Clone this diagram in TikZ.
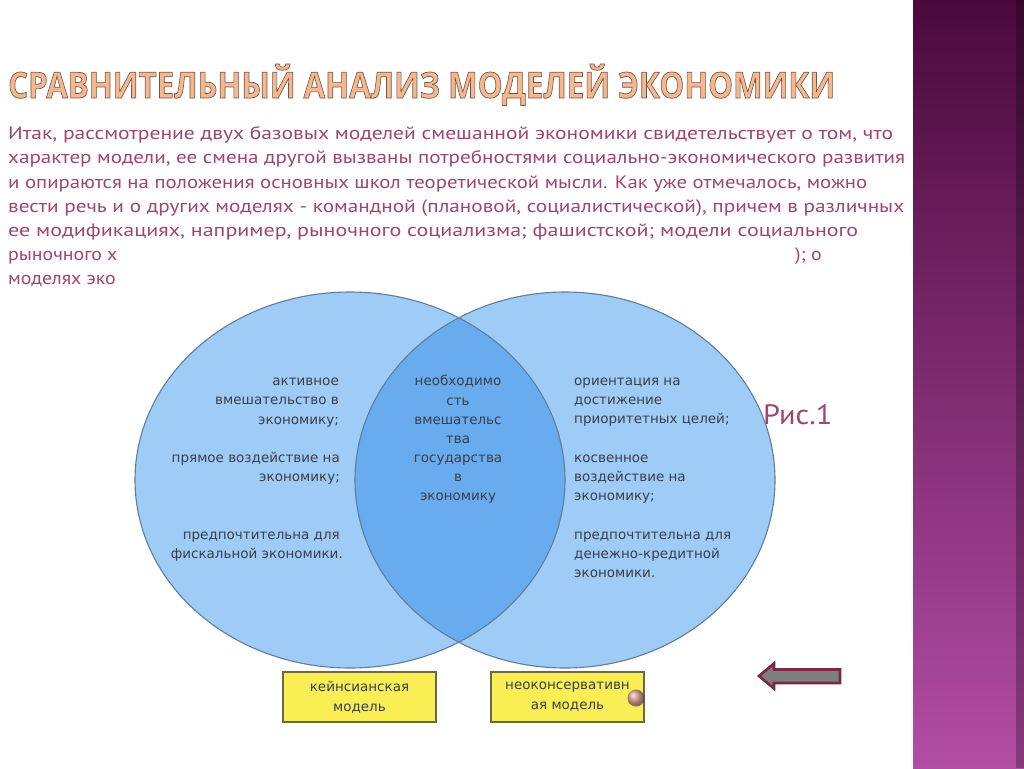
\documentclass[tikz,border=0pt]{standalone}
\usepackage{fontspec}
\setmainfont{PT Sans}
\newfontfamily\vennfont{DejaVu Sans}
\newfontfamily\titlefont{Open Sans}
\usepackage{graphicx}
\definecolor{bodytxt}{HTML}{A0466E}
\definecolor{titlefill}{HTML}{F4B88E}
\definecolor{vlight}{HTML}{9FCBF7}
\definecolor{vdark}{HTML}{68ABEE}
\definecolor{vedge}{HTML}{5F7E9C}
\definecolor{vtxt}{HTML}{3A3F4A}
\definecolor{ybox}{HTML}{F9EF55}
\definecolor{yedge}{HTML}{6E6A40}
\definecolor{agray}{HTML}{7F7F7F}
\definecolor{amaroon}{HTML}{7A2846}
\definecolor{bartop}{HTML}{4A0A3C}
\definecolor{barbot}{HTML}{B24DA4}
\definecolor{ballcol}{HTML}{C878B0}
\newcommand{\outlinedtext}[1]{{\color{titlefill}\special{pdf:literal direct 0.45 0.33 0.30 RG 0.7 w 2 Tr}#1\special{pdf:literal direct 0 Tr 0.4 w}}}
\tikzset{
  bodyline/.style={anchor=base west, inner sep=0pt, text=bodytxt, font=\fontsize{18}{22}\selectfont},
  vr/.style={anchor=base east, inner sep=0pt, text=vtxt, font=\vennfont\fontsize{13.5}{16}\selectfont},
  vc/.style={anchor=base, inner sep=0pt, text=vtxt, font=\vennfont\fontsize{13.5}{16}\selectfont},
  vl/.style={anchor=base west, inner sep=0pt, text=vtxt, font=\vennfont\fontsize{13.5}{16}\selectfont},
  modelbox/.style={draw=yedge, line width=1.2pt, fill=ybox, minimum width=153pt, minimum height=50pt, inner sep=0pt, align=center, text=vtxt, font=\vennfont\fontsize{13.5}{20}\selectfont},
}
\begin{document}
\begin{tikzpicture}[x=1pt,y=-1pt]
\useasboundingbox (0,0) rectangle (1024,768);
\fill[white] (0,0) rectangle (1024,768);
% side bar
\shade[top color=bartop, bottom color=barbot] (913,0) rectangle (1024,768);
\fill[black, opacity=0.25] (1016,0) rectangle (1024,768);
% title
\node[anchor=base west, inner sep=0pt, font=\titlefont\bfseries\fontsize{36}{40}\selectfont] (title) at (8,98)
  {\resizebox{827pt}{\height}{\outlinedtext{СРАВНИТЕЛЬНЫЙ АНАЛИЗ МОДЕЛЕЙ ЭКОНОМИКИ}}};
% body text
\node[bodyline] (b1) at (8,139) {\resizebox{885pt}{\height}{Итак, рассмотрение двух базовых моделей смешанной экономики свидетельствует о том, что}};
\node[bodyline] (b2) at (8,163) {\resizebox{897pt}{\height}{характер модели, ее смена другой вызваны потребностями социально-экономического развития}};
\node[bodyline] (b3) at (8,188) {\resizebox{859pt}{\height}{и опираются на положения основных школ теоретической мысли. Как уже отмечалось, можно}};
\node[bodyline] (b4) at (8,212) {\resizebox{896pt}{\height}{вести речь и о других моделях - командной (плановой, социалистической), причем в различных}};
\node[bodyline] (b5) at (8,236) {\resizebox{850pt}{\height}{ее модификациях, например, рыночного социализма; фашистской; модели социального}};
\node[bodyline] (b6) at (8,260) {\scalebox{1.1}[1]{рыночного х}};
\node[bodyline] (b6r) at (795,260) {\scalebox{1.1}[1]{); о}};
\node[bodyline] (b7) at (8,284) {\scalebox{1.1}[1]{моделях эко}};
% venn
\fill[vlight] (350,480) ellipse [x radius=215, y radius=188];
\fill[vlight] (565,480) ellipse [x radius=210, y radius=188];
\begin{scope}
  \clip (350,480) ellipse [x radius=215, y radius=188];
  \fill[vdark] (565,480) ellipse [x radius=210, y radius=188];
\end{scope}
\draw[vedge, line width=1.1pt] (350,480) ellipse [x radius=215, y radius=188];
\draw[vedge, line width=1.1pt] (565,480) ellipse [x radius=210, y radius=188];
% left texts
\node[vr] (l1) at (339,385) {активное};
\node[vr] (l2) at (339,404) {вмешательство в};
\node[vr] (l3) at (339,424) {экономику;};
\node[vr] (l4) at (340,462) {прямое воздействие на};
\node[vr] (l5) at (340,481) {экономику;};
\node[vr] (l6) at (340,539) {предпочтительна для};
\node[vr] (l7) at (343,558) {фискальной экономики.};
% center texts
\node[vc] (c1) at (458,385) {необходимо};
\node[vc] (c2) at (458,405) {сть};
\node[vc] (c3) at (458,424) {вмешательс};
\node[vc] (c4) at (458,443) {тва};
\node[vc] (c5) at (458,462) {государства};
\node[vc] (c6) at (458,481) {в};
\node[vc] (c7) at (458,500) {экономику};
% right texts
\node[vl] (r1) at (574,385) {ориентация на};
\node[vl] (r2) at (574,404) {достижение};
\node[vl] (r3) at (574,423) {приоритетных целей;};
\node[vl] (r4) at (574,462) {косвенное};
\node[vl] (r5) at (574,481) {воздействие на};
\node[vl] (r6) at (574,500) {экономику;};
\node[vl] (r7) at (574,539) {предпочтительна для};
\node[vl] (r8) at (574,558) {денежно-кредитной};
\node[vl] (r9) at (574,577) {экономики.};
% model boxes
\node[modelbox] (keyn) at (359.5,697) {кейнсианская\\модель};
\node[modelbox] (neo) at (567.5,697) {неоконсервативн\\ая модель};
\shade[ball color=ballcol, opacity=0.75] (636,698) circle (8.5);
% figure label
\node[anchor=base west, inner sep=0pt, text=bodytxt, font=\fontsize{28}{32}\selectfont] (fig) at (763,424) {\resizebox{69pt}{\height}{Рис.1}};
% back arrow
\draw[amaroon, line width=2.6pt, fill=agray, line join=miter]
  (759,676) -- (774,663.5) -- (774,669.5) -- (840,669.5) -- (840,683) -- (774,683) -- (774,688.5) -- cycle;
\end{tikzpicture}
\end{document}
